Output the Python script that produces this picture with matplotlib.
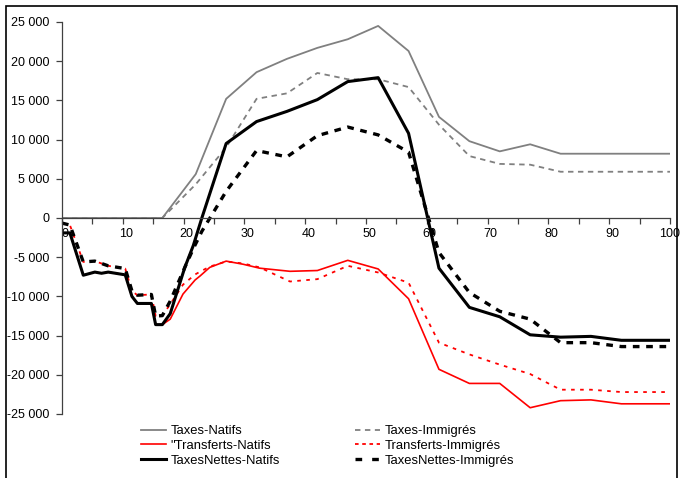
import matplotlib
matplotlib.use("Agg")
import matplotlib.pyplot as plt
from matplotlib.lines import Line2D
from matplotlib.patches import Rectangle
from matplotlib.transforms import ScaledTranslation

plt.rcParams['font.family'] = ['Liberation Sans', 'DejaVu Sans']

# ---------------------------------------------------------------------------
# data
# ---------------------------------------------------------------------------
ages_taxes = [0, 16.5, 22, 27, 32, 37, 42, 47, 52, 57, 62, 67, 72, 77, 82, 100]
taxes_natifs = [0, 0, 5600, 15200, 18600, 20300, 21700, 22800, 24500, 21300,
                12900, 9800, 8500, 9400, 8200, 8200]
taxes_immigres = [0, 0, 4300, 9000, 15200, 15900, 18500, 17700, 17700, 16700,
                  11900, 7900, 6900, 6800, 5900, 5900]

ages_tr = [0, 1.3, 3.5, 5.4, 6.5, 7.6, 10.4, 11.5, 12.4, 14.7, 15.4, 16.5,
           17.8, 19.9, 21.9, 22.7, 24.3, 27, 29.8, 32.5, 37.5, 42, 47, 52, 57,
           62, 67, 72, 77, 82, 87, 92, 100]
transferts_natifs = [-1900, -1900, -7300, -6900, -7050, -6900, -7250, -10000,
                     -10900, -10900, -13600, -13600,
                     -12900, -9700, -7900, -7400, -6300, -5500, -5900, -6400,
                     -6800, -6700, -5400, -6500, -10300, -19300, -21100,
                     -21100, -24200, -23300, -23200, -23700, -23700]
transferts_immigres = [-650, -900, -5600, -5500, -5800, -6100, -6450, -9300,
                       -9850, -9750, -12500, -12450,
                       -11000, -8500, -7200, -6850, -6200, -5550, -5800, -6300,
                       -8100, -7800, -6100, -6950, -8250, -15900, -17400,
                       -18700, -19900, -21900, -21900, -22200, -22200]

ages_net = [0, 1.3, 3.5, 5.4, 6.5, 7.6, 10.4, 11.5, 12.4, 14.7, 15.4, 16.5,
            17.8, 20.2, 21.6, 23, 27, 32, 37, 42, 47, 52, 57, 62, 67, 72, 77,
            82, 87, 92, 100]
nettes_natifs = [-1900, -1900, -7300, -6900, -7050, -6900, -7250, -10000,
                 -10900, -10900, -13600, -13600,
                 -12200, -6300, -3500, 0, 9500, 12300, 13600, 15100, 17400,
                 17900, 10800, -6400, -11400, -12600, -14900, -15200, -15100,
                 -15600, -15600]
nettes_immigres = [-650, -900, -5600, -5500, -5800, -6100, -6450, -9300,
                   -9850, -9750, -12500, -12450,
                   -10600, -6300, -3900, -1700, 3400, 8600, 7800, 10500, 11600,
                   10600, 8400, -4400, -9500, -11900, -12900, -15900, -15900,
                   -16400, -16400]

y_ticks = [-25000, -20000, -15000, -10000, -5000, 0, 5000, 10000, 15000, 20000, 25000]
x_ticks = list(range(0, 101, 10))

# ---------------------------------------------------------------------------
# figure
# ---------------------------------------------------------------------------
fig = plt.figure(figsize=(6.81, 4.78), dpi=100)
ax = fig.add_axes([62 / 681, 1 - 414 / 478, (670 - 62) / 681, (414 - 22) / 478])

gray = '#808080'
ax.plot(ages_taxes, taxes_natifs, color=gray, lw=1.3)
ax.plot(ages_taxes, taxes_immigres, color=gray, lw=1.3, ls=(0, (3, 2.5)))
ax.plot(ages_tr, transferts_natifs, color='red', lw=1.2)
ax.plot(ages_tr, transferts_immigres, color='red', lw=1.3, ls=(0, (2, 3)))
ax.plot(ages_net, nettes_natifs, color='black', lw=2.2)
ax.plot(ages_net, nettes_immigres, color='black', lw=2.4, ls=(0, (2, 2)))

ax.set_xlim(0, 100)
ax.set_ylim(-25000, 25000)
ax.spines['top'].set_visible(False)
ax.spines['right'].set_visible(False)
ax.spines['bottom'].set_position(('data', 0))
ax.spines['left'].set_color('#404040')
ax.spines['bottom'].set_color('#404040')
ax.spines['left'].set_linewidth(0.9)
ax.spines['bottom'].set_linewidth(0.9)

ax.set_yticks(y_ticks)
ax.set_yticklabels([f"{v:,}".replace(',', ' ') for v in y_ticks])
ax.set_xticks(x_ticks)
ax.set_xticklabels([str(v) for v in x_ticks])
ax.set_xticks([v + 5 for v in x_ticks[:-1]], minor=True)
ax.tick_params(axis='both', which='both', direction='out', length=4,
               width=0.9, color='#404040', labelsize=9)
ax.tick_params(axis='x', pad=3)
ax.tick_params(axis='y', pad=5)
for lab in ax.get_xticklabels()[:-1]:
    lab.set_transform(lab.get_transform() + ScaledTranslation(3 / 100, 0, fig.dpi_scale_trans))

handles = [
    Line2D([], [], color=gray, lw=1.3),
    Line2D([], [], color='red', lw=1.2),
    Line2D([], [], color='black', lw=2.2),
    Line2D([], [], color=gray, lw=1.3, ls=(0, (3, 2.5))),
    Line2D([], [], color='red', lw=1.3, ls=(0, (2, 2))),
    Line2D([], [], color='black', lw=2.4, ls=(0, (2, 3))),
]
labels = ['Taxes-Natifs', '"Transferts-Natifs', 'TaxesNettes-Natifs',
          'Taxes-Immigrés', 'Transferts-Immigrés', 'TaxesNettes-Immigrés']
fig.legend(handles, labels, ncol=2, frameon=False, fontsize=9.4,
           loc='upper left', bbox_to_anchor=(141 / 681, 1 - 425 / 478),
           borderpad=0, borderaxespad=0, handlelength=1.9, handletextpad=0.35,
           labelspacing=0.2, columnspacing=5.8)

fig.patches.append(Rectangle((6 / 681, -0.02), (677 - 6) / 681, 1 - 6 / 478 + 0.02,
                             transform=fig.transFigure, fill=False,
                             edgecolor='black', lw=1.2))

fig.savefig('out.png', dpi=100)
